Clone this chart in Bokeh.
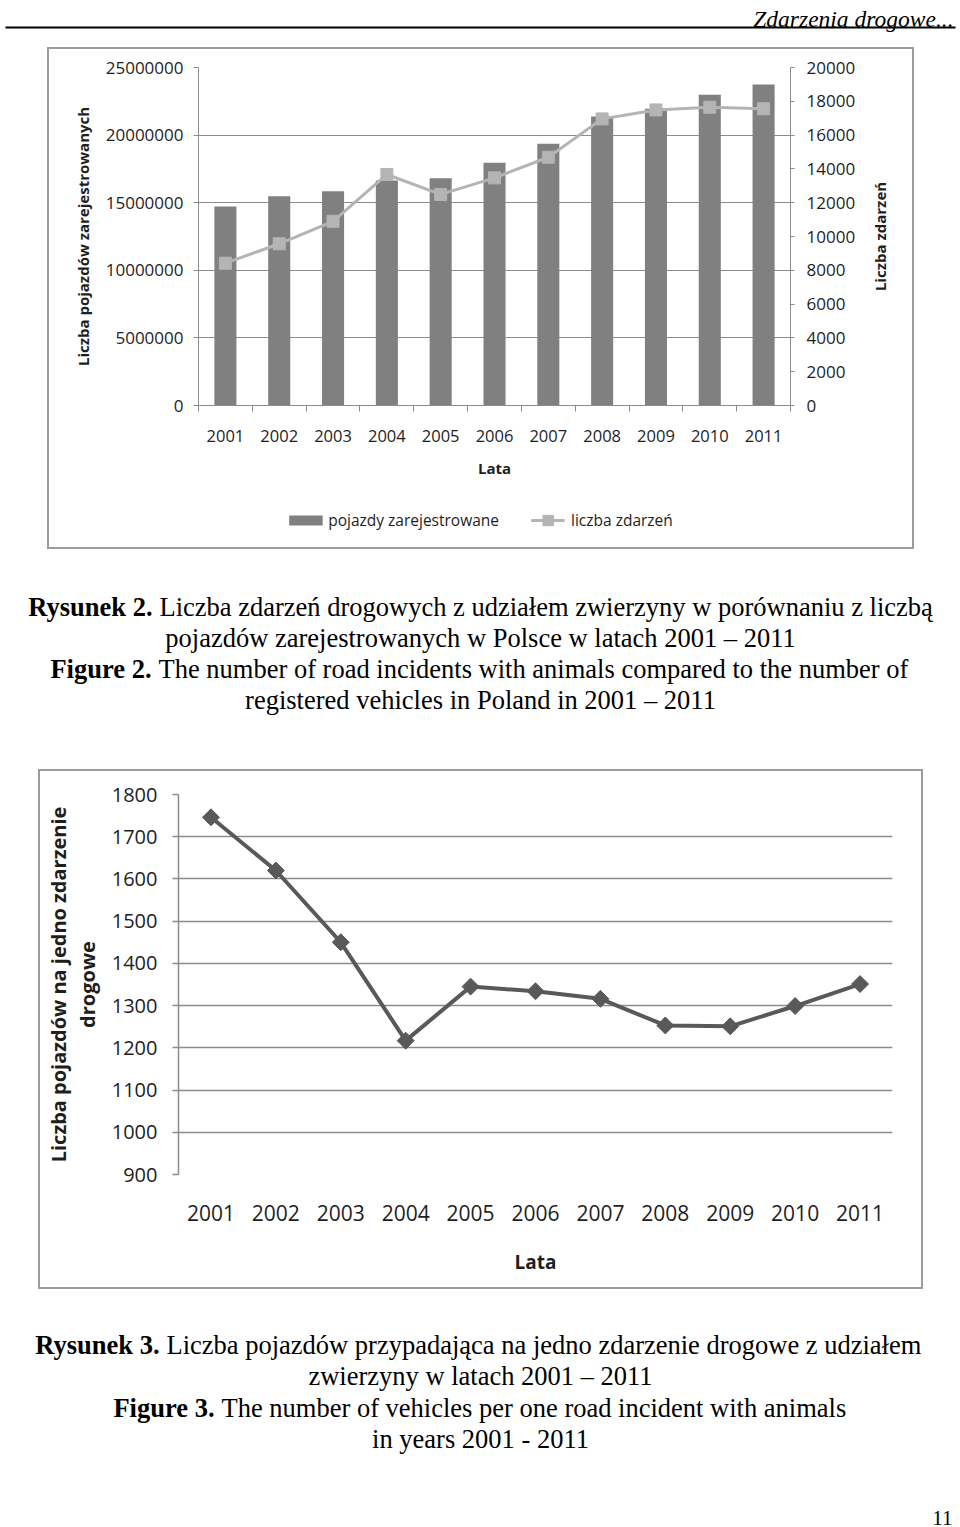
import math
from bokeh.plotting import figure
from bokeh.models import (Range1d, LinearAxis, FixedTicker, BasicTickFormatter,
                          Legend, LegendItem)
from bokeh.layouts import column, row
from bokeh.core.properties import value
from bokeh.embed import file_html
from bokeh.resources import INLINE

# ---------------- data ----------------
years = [2001, 2002, 2003, 2004, 2005, 2006, 2007, 2008, 2009, 2010, 2011]
vehicles = [14720000, 15480000, 15850000, 16650000, 16810000, 17950000,
            19360000, 21370000, 21940000, 22980000, 23740000]
incidents = [8420, 9570, 10900, 13670, 12490, 13470, 14690, 16960, 17490, 17650, 17560]
vehicles_per_incident = [1746, 1620, 1450, 1217, 1345, 1334, 1316, 1253, 1251, 1299, 1351]

left_ticks = [0, 5000000, 10000000, 15000000, 20000000, 25000000]
right_ticks = [0, 2000, 4000, 6000, 8000, 10000, 12000, 14000, 16000, 18000, 20000]
ratio_ticks = [900, 1000, 1100, 1200, 1300, 1400, 1500, 1600, 1700, 1800]

SERIF = value("Liberation Serif")
SANS = "Open Sans"
GRID = "#8c8c8c"
TXT = "#1e1e1e"
CAP = "26.5px"
BAR_C = "#808080"
LINE_C = "#b4b4b4"


def bare(width, height, xr, yr, **kw):
    f = figure(width=width, height=height, x_range=xr, y_range=yr,
               output_backend="svg", toolbar_location=None,
               x_axis_location=None, y_axis_location=None, **kw)
    f.grid.visible = False
    f.outline_line_color = None
    return f


def strip(top, height, width=956):
    return bare(width, height, Range1d(0, width), Range1d(top + height, top), min_border=0)


def caption(f, x, y, txt, bold=False, align="left", size=CAP, italic=False):
    style = "bold" if bold else ("italic" if italic else "normal")
    f.text(x=[x], y=[y], text=[txt], text_font=SERIF, text_font_size=size,
           text_font_style=style, text_align=align, text_baseline="alphabetic",
           text_color="#000000")


# ---------------- header ----------------
head = strip(0, 47)
caption(head, 953, 18, "Zdarzenia drogowe...", align="right", size="23.5px", italic=True)
head.segment(x0=[5], y0=[27], x1=[955], y1=[27], line_color="#000000", line_width=2)

# ---------------- chart 1 ----------------
p1 = figure(width=815, height=455, x_range=Range1d(2000.5, 2011.5),
            y_range=Range1d(0, 25000000), output_backend="svg",
            toolbar_location=None, min_border_left=149, min_border_right=74,
            min_border_top=18, min_border_bottom=99)
p1.extra_y_ranges = {"events": Range1d(0, 20000)}
p1.outline_line_color = None
p1.xgrid.visible = False
p1.ygrid[0].ticker = FixedTicker(ticks=left_ticks)
p1.ygrid[0].grid_line_color = GRID

xa = p1.xaxis[0]
xa.ticker = FixedTicker(ticks=years, minor_ticks=[y - 0.5 for y in years] + [years[-1] + 0.5])
xa.major_tick_out = 0
xa.major_tick_in = 0
xa.minor_tick_out = 6
xa.minor_tick_in = 0
xa.minor_tick_line_color = GRID
xa.axis_line_color = GRID
xa.major_label_text_font = SANS
xa.major_label_text_font_size = "16.5px"
xa.major_label_text_color = TXT
xa.major_label_standoff = 18
xa.axis_label = "Lata"
xa.axis_label_text_font = SANS
xa.axis_label_text_font_size = "15px"
xa.axis_label_text_font_style = "bold"
xa.axis_label_text_color = TXT
xa.axis_label_standoff = 13

ya = p1.yaxis[0]
ya.ticker = FixedTicker(ticks=left_ticks)
ya.formatter = BasicTickFormatter(use_scientific=False)
ya.major_tick_out = 5
ya.major_tick_in = 0
ya.minor_tick_out = 0
ya.minor_tick_in = 0
ya.axis_line_color = GRID
ya.major_tick_line_color = GRID
ya.major_label_text_font = SANS
ya.major_label_text_font_size = "17px"
ya.major_label_text_color = TXT
ya.major_label_standoff = 10
ya.axis_label = "Liczba pojazdów zarejestrowanych"
ya.axis_label_text_font = SANS
ya.axis_label_text_font_size = "15px"
ya.axis_label_text_font_style = "bold"
ya.axis_label_text_color = TXT
ya.axis_label_standoff = 10

ra = LinearAxis(y_range_name="events", ticker=FixedTicker(ticks=right_ticks))
ra.major_tick_out = 4
ra.major_tick_in = 0
ra.minor_tick_out = 0
ra.minor_tick_in = 0
ra.axis_line_color = GRID
ra.major_tick_line_color = GRID
ra.major_label_text_font = SANS
ra.major_label_text_font_size = "17px"
ra.major_label_text_color = TXT
ra.major_label_standoff = 12
p1.add_layout(ra, "right")

p1.vbar(x=years, top=vehicles, width=0.41, fill_color=BAR_C, line_color=None)
p1.line(x=years, y=incidents, y_range_name="events", line_color=LINE_C, line_width=3)
p1.scatter(x=years, y=incidents, y_range_name="events", marker="square", size=12,
           fill_color=LINE_C, line_color=LINE_C)

# right-hand axis title (reads bottom-to-top), in a narrow strip beside the plot
rlab = bare(48, 455, Range1d(0, 1), Range1d(0, 1), min_border_left=0, min_border_right=0,
            min_border_top=18, min_border_bottom=99)
rlab.text(x=[0.33], y=[0.5], text=["Liczba zdarzeń"], angle=math.pi / 2,
          text_font=value(SANS), text_font_size="15px", text_font_style="bold",
          text_align="center", text_baseline="middle", text_color=TXT)

# legend strip: same series, plotted outside this strip's visible ranges
leg = bare(863, 43, Range1d(0, 1), Range1d(-2, -1), min_border_left=0, min_border_right=0,
           min_border_top=0, min_border_bottom=11)
lg_bar = leg.line(x=years, y=vehicles, line_color=BAR_C, line_width=10, line_cap="butt")
lg_line = leg.line(x=years, y=incidents, line_color=LINE_C, line_width=3)
lg_pts = leg.scatter(x=years, y=incidents, marker="square", size=12,
                     fill_color=LINE_C, line_color=LINE_C)
legend = Legend(items=[LegendItem(label="pojazdy zarejestrowane", renderers=[lg_bar]),
                       LegendItem(label="liczba zdarzeń", renderers=[lg_line, lg_pts])],
                orientation="horizontal", location="center", border_line_color=None,
                background_fill_alpha=0, padding=0, margin=0, spacing=32,
                glyph_width=34, glyph_height=26, label_standoff=6,
                label_text_font=SANS, label_text_font_size="15.5px", label_text_color=TXT)
leg.add_layout(legend)

c1 = column(row(p1, rlab), leg, styles={"border": "2px solid #9c9c9c"}, margin=(0, 0, 0, 47))

# ---------------- caption 2 ----------------
cap2 = strip(549, 220)
caption(cap2, 152, 606, "Rysunek 2.", bold=True, align="right")
caption(cap2, 159, 606, "Liczba zdarzeń drogowych z udziałem zwierzyny w porównaniu z liczbą")
caption(cap2, 480, 637, "pojazdów zarejestrowanych w Polsce w latach 2001 – 2011", align="center")
caption(cap2, 151, 668, "Figure 2.", bold=True, align="right")
caption(cap2, 158, 668, "The number of road incidents with animals compared to the number of")
caption(cap2, 480, 699, "registered vehicles in Poland in 2001 – 2011", align="center")

# ---------------- chart 2 ----------------
p2 = figure(width=881, height=516, x_range=Range1d(2000.5, 2011.5),
            y_range=Range1d(900, 1800), output_backend="svg",
            toolbar_location=None, min_border_left=138, min_border_right=29,
            min_border_top=23, min_border_bottom=113)
p2.outline_line_color = None
p2.xgrid.visible = False
p2.ygrid[0].ticker = FixedTicker(ticks=ratio_ticks)
p2.ygrid[0].grid_line_color = GRID
p2.ygrid[0].grid_line_width = 1.5

xb = p2.xaxis[0]
xb.ticker = FixedTicker(ticks=years)
xb.major_tick_out = 0
xb.major_tick_in = 0
xb.minor_tick_out = 0
xb.minor_tick_in = 0
xb.axis_line_color = None
xb.major_label_text_font = SANS
xb.major_label_text_font_size = "21px"
xb.major_label_text_color = TXT
xb.major_label_standoff = 30
xb.axis_label = "Lata"
xb.axis_label_text_font = SANS
xb.axis_label_text_font_size = "19px"
xb.axis_label_text_font_style = "bold"
xb.axis_label_text_color = TXT
xb.axis_label_standoff = 25

yb = p2.yaxis[0]
yb.ticker = FixedTicker(ticks=ratio_ticks)
yb.major_tick_out = 6
yb.major_tick_in = 0
yb.minor_tick_out = 0
yb.minor_tick_in = 0
yb.axis_line_color = GRID
yb.axis_line_width = 1.5
yb.major_tick_line_color = GRID
yb.major_tick_line_width = 1.5
yb.major_label_text_font = SANS
yb.major_label_text_font_size = "20px"
yb.major_label_text_color = TXT
yb.major_label_standoff = 15
yb.axis_label = "Liczba pojazdów na jedno zdarzenie\ndrogowe"
yb.axis_label_text_font = SANS
yb.axis_label_text_font_size = "20px"
yb.axis_label_text_font_style = "bold"
yb.axis_label_text_color = TXT
yb.axis_label_text_line_height = 1.07
yb.axis_label_standoff = 8

p2.line(x=years, y=vehicles_per_incident, line_color="#595959", line_width=4)
p2.scatter(x=years, y=vehicles_per_incident, marker="square", angle=math.pi / 4, size=12,
           fill_color="#595959", line_color="#595959")

c2 = column(p2, styles={"border": "2px solid #9c9c9c"}, margin=(0, 0, 0, 38))

# ---------------- caption 3 ----------------
cap3 = strip(1289, 238, width=960)
caption(cap3, 159, 1344, "Rysunek 3.", bold=True, align="right")
caption(cap3, 166, 1344, "Liczba pojazdów przypadająca na jedno zdarzenie drogowe z udziałem")
caption(cap3, 480, 1375, "zwierzyny w latach 2001 – 2011", align="center")
caption(cap3, 214, 1407, "Figure 3.", bold=True, align="right")
caption(cap3, 221, 1407, "The number of vehicles per one road incident with animals")
caption(cap3, 480, 1438, "in years 2001 - 2011", align="center")
caption(cap3, 952, 1517, "11", align="right", size="21px")

root = column(head, c1, cap2, c2, cap3)

with open("out.html", "w") as fh:
    fh.write(file_html(root, INLINE))
